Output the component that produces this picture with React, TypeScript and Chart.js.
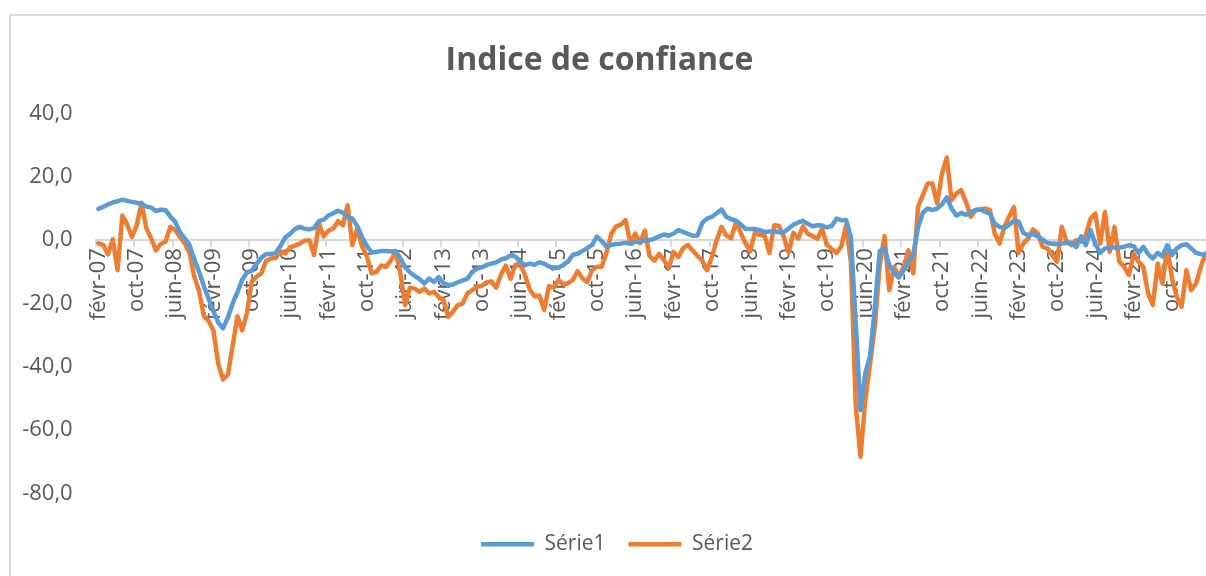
import { useEffect, useRef } from "react";
import { Chart, registerables } from "chart.js";

Chart.register(...registerables);

// ---- data ----
const MONTH_NAMES = ["janv", "févr", "mars", "avr", "mai", "juin", "juil", "août", "sept", "oct", "nov", "déc"];
const FIRST_YEAR = 2007;
const FIRST_MONTH = 1; // févr
const LABEL_EVERY = 8;

const SERIES1_LABEL = "Série1";
const SERIES2_LABEL = "Série2";

const SERIES1 = [
  9.9, 10.5, 11.3, 11.9, 12.3, 12.8, 12.4, 12.1, 11.8, 11.4,
  10.6, 10.3, 9.2, 9.6, 9.5, 7.5, 5.8, 2.6, 0.6, -1.5,
  -6, -10, -14.5, -18.5, -22.5, -26, -27.8, -24.5, -20, -16.5,
  -12.5, -10.2, -9.6, -7.5, -5.5, -4.4, -4.4, -4, -1.8, 0.9,
  2.0, 3.5, 4.2, 3.6, 3.4, 3.8, 6.0, 6.5, 7.8, 8.5,
  9.3, 8.7, 7.3, 6.8, 4.5, 1.0, -1.8, -3.8, -3.7, -3.4,
  -3.4, -3.6, -3.4, -5.7, -8.6, -10.1, -11.3, -12.3, -13.7, -12.1,
  -13.2, -11.7, -13.6, -14.2, -14, -13.3, -12.7, -12.2, -10, -9,
  -8.6, -7.8, -7.4, -7.0, -6.1, -5.7, -4.8, -5.2, -6.8, -7.9,
  -7.4, -7.8, -7, -7.4, -8.3, -8.8, -8.7, -7.8, -6.7, -4.6,
  -4.3, -3.4, -2.5, -1.5, 1.1, -0.3, -2.0, -1.5, -1.2, -1.1,
  -0.8, -1.1, -0.5, -0.5, 0, 0, 0.5, 1.2, 1.8, 1.4,
  2.1, 3.2, 2.6, 2.0, 1.4, 1.5, 5.5, 6.8, 7.4, 8.5,
  9.7, 7.4, 6.6, 6.2, 5.0, 3.6, 3.5, 3.5, 3.2, 2.6,
  2.7, 2.8, 2.5, 2.5, 3.7, 4.9, 5.6, 6.1, 5.2, 4.4,
  4.7, 4.6, 4.0, 4.5, 6.8, 6.3, 6.4, 1, -26, -53.7,
  -42, -36.5, -21, -3.5, -2.5, -7.8, -10.3, -11.8, -9.5, -6.8,
  -4.5, 4, 8.6, 10, 9.5, 10, 11.3, 13.5, 10, 7.8,
  8.6, 8, 8.9, 9.5, 9.8, 8.9, 8.4, 5.2, 4.2, 3.8,
  4.8, 6.2, 5.8, 2.2, 1.6, 1.9, 1.2, 0.2, -0.9, -1.1,
  -1.1, -1.1, -0.8, -0.8, -2.2, 1.2, -1.6, 3.2, -1.2, -4,
  -2.6, -2.3, -2.3, -2.3, -2.1, -1.6, -1.9, -4, -2.1, -4.4,
  -5.8, -4, -5.1, -1.6, -4.7, -2.6, -1.6, -1.3, -2.6, -4,
  -4.4, -4.7,
];

const SERIES2 = [
  -1, -1.5, -4.5, 0.3, -9.5, 7.8, 5, 1, 4.7, 11.8,
  3.8, 0.6, -3.2, -1.2, -0.5, 4.2, 3.2, 1, -1, -4,
  -11.5, -16, -24, -25.5, -28.5, -39, -44, -42.5, -33.5, -24,
  -28.5, -23, -13, -11.5, -10.5, -6.5, -5.8, -5.6, -3.5, -4.2,
  -2.3, -1.7, -1.1, -0.2, 0, -4.7, 5.3, 1.2, 3.0, 3.7,
  6.0, 4.7, 11, -1.6, 3.7, -2.0, -5, -10.5, -10, -8,
  -8.4, -6.5, -3.7, -10.3, -20.5, -15, -15.3, -16.3, -15.3, -16.8,
  -16.3, -17.9, -18.9, -24.2, -22.5, -20.5, -20, -16.8, -15.8, -14.7,
  -14.4, -13.3, -13, -15, -10.8, -8, -12.2, -7.8, -7.4, -11,
  -15.6, -17.7, -17.5, -22, -14.5, -15, -12.5, -14, -13.6, -12.5,
  -9.8, -12, -13.2, -9.5, -8.4, -8.4, -4, 2, 4.3, 4.9,
  6.3, -1, 2.1, -1, 3, -5, -6.5, -4.3, -6.3, -8.8,
  -3.7, -5.3, -2.5, -1.5, -3.3, -5.0, -6.5, -9.5, -5.2, 0,
  4.2, 1.5, 0.6, 5.5, 2.4, -1.0, -3.5, 2.6, 1.6, 1.4,
  -4, 4.7, 4.5, 1, -3.8, 2.3, 0.5, 4.4, 2.0, 1.3,
  0.4, 3.6, -1.5, -2.8, -4.1, -1.9, 4.7, -7, -52, -68.4,
  -50.5, -39, -27, -8, 1.3, -15.8, -8.4, -11.6, -8.4, -3.2,
  -10.5, 10.5, 14.2, 17.9, 17.9, 11.6, 21, 26.1, 12.6, 14.7,
  15.8, 12.1, 7.4, 9.5, 9.7, 10, 9.5, 2.1, -1.1, 4.2,
  7.4, 10.5, -4, -1, 0.5, 3.4, 2.1, -2.1, -2.6, -4.7,
  -6.8, 4.2, -0.5, -1.6, 0, -0.5, 1.6, 6.8, 8.4, -1.1,
  8.9, -3.7, 4.2, -6.8, -8.4, -11, -4.4, -6.8, -8.4, -16.8,
  -20.5, -7.4, -13.7, -2.1, -12.1, -17.9, -21, -9.5, -15.8, -13.7,
  -8.4, -4.2,
];

const CATEGORIES = SERIES1.map((_, i) => {
  const m = FIRST_MONTH + i;
  const year = FIRST_YEAR + Math.floor(m / 12);
  return `${MONTH_NAMES[m % 12]}-${String(year % 100).padStart(2, "0")}`;
});

const Y_MIN = -80;
const Y_MAX = 40;
const Y_STEP = 20;

const TITLE = "Indice de confiance";

// ---- style ----
const TEXT_COLOR = "#595959";
const AXIS_COLOR = "#d9d9d9";
const BLUE = "#5B9BD5";
const ORANGE = "#ED7D31";
const FONT = "'Open Sans', 'DejaVu Sans', sans-serif";

const CANVAS_W = 1208;
const CANVAS_H = 576;

const framePlugin = {
  id: "frame",
  beforeDraw(chart: any) {
    const ctx = chart.ctx;
    ctx.save();
    ctx.fillStyle = "#ffffff";
    ctx.fillRect(0, 0, chart.width, chart.height);
    ctx.strokeStyle = AXIS_COLOR;
    ctx.lineWidth = 2;
    ctx.beginPath();
    ctx.moveTo(10, chart.height);
    ctx.lineTo(10, 15);
    ctx.lineTo(chart.width, 15);
    ctx.stroke();
    ctx.restore();
  },
};

const shiftPlugin = {
  id: "shiftBoxes",
  afterLayout(chart: any) {
    const t = chart.titleBlock;
    if (t) {
      t.left -= 4.5;
      t.right -= 4.5;
    }
    const l = chart.legend;
    if (l) {
      l.left += 13;
      l.right += 13;
      l.top += 17.2;
      l.bottom += 17.2;
    }
  },
};

export default function App() {
  const ref = useRef<HTMLCanvasElement | null>(null);

  useEffect(() => {
    if (!ref.current) return;
    const chart = new Chart(ref.current, {
      type: "line",
      data: {
        labels: CATEGORIES,
        datasets: [
          {
            label: SERIES1_LABEL,
            data: SERIES1,
            borderColor: BLUE,
            backgroundColor: BLUE,
            borderWidth: 4.5,
            pointRadius: 0,
            pointHoverRadius: 0,
            borderCapStyle: "round",
            borderJoinStyle: "round",
            tension: 0,
            fill: false,
          },
          {
            label: SERIES2_LABEL,
            data: SERIES2,
            borderColor: ORANGE,
            backgroundColor: ORANGE,
            borderWidth: 4.5,
            pointRadius: 0,
            pointHoverRadius: 0,
            borderCapStyle: "round",
            borderJoinStyle: "round",
            tension: 0,
            fill: false,
          },
        ],
      },
      options: {
        animation: false,
        responsive: false,
        devicePixelRatio: 1,
        events: [],
        layout: { padding: { left: 0, right: 0, top: 0, bottom: 28.5 } },
        plugins: {
          title: {
            display: true,
            text: TITLE,
            color: TEXT_COLOR,
            font: { family: FONT, size: 32, weight: "bold" },
            padding: { top: 41.8, bottom: 33.3 },
          },
          legend: {
            display: true,
            position: "bottom",
            labels: {
              usePointStyle: true,
              pointStyle: "line",
              pointStyleWidth: 53,
              padding: 23,
              color: TEXT_COLOR,
              font: { family: FONT, size: 21 },
            },
          },
          tooltip: { enabled: false },
        },
        scales: {
          x: {
            type: "category",
            position: { y: 0 },
            offset: true,
            grid: {
              display: true,
              drawOnChartArea: false,
              drawTicks: true,
              tickLength: 6,
              offset: true,
              lineWidth: 2,
              color: (c: any) => (c.index % LABEL_EVERY === 0 ? AXIS_COLOR : "rgba(0,0,0,0)"),
            },
            border: { display: true, color: AXIS_COLOR, width: 2 },
            ticks: {
              autoSkip: false,
              maxRotation: 90,
              minRotation: 90,
              padding: 2,
              color: TEXT_COLOR,
              font: { family: FONT, size: 22 },
              callback: (_v: any, index: number) => (index % LABEL_EVERY === 0 ? CATEGORIES[index] : ""),
            },
            afterFit: (s: any) => {
              s.height = 0;
              s.paddingLeft = 0;
              s.paddingRight = 0;
            },
          },
          y: {
            min: Y_MIN,
            max: Y_MAX,
            ticks: {
              stepSize: Y_STEP,
              padding: 23.3,
              color: TEXT_COLOR,
              font: { family: FONT, size: 22 },
              callback: (v: any) => Number(v).toFixed(1).replace(".", ","),
            },
            grid: { display: false, drawTicks: false },
            border: { display: false },
            afterFit: (s: any) => {
              s.width = 96;
            },
          },
        },
      },
      plugins: [framePlugin, shiftPlugin],
    } as any);
    return () => chart.destroy();
  }, []);

  return (
    <div
      style={{
        position: "fixed",
        left: 0,
        top: 0,
        width: 1206,
        height: 576,
        overflow: "hidden",
        background: "#ffffff",
      }}
    >
      <canvas
        ref={ref}
        width={CANVAS_W}
        height={CANVAS_H}
        style={{ display: "block", width: CANVAS_W, height: CANVAS_H }}
      />
    </div>
  );
}
